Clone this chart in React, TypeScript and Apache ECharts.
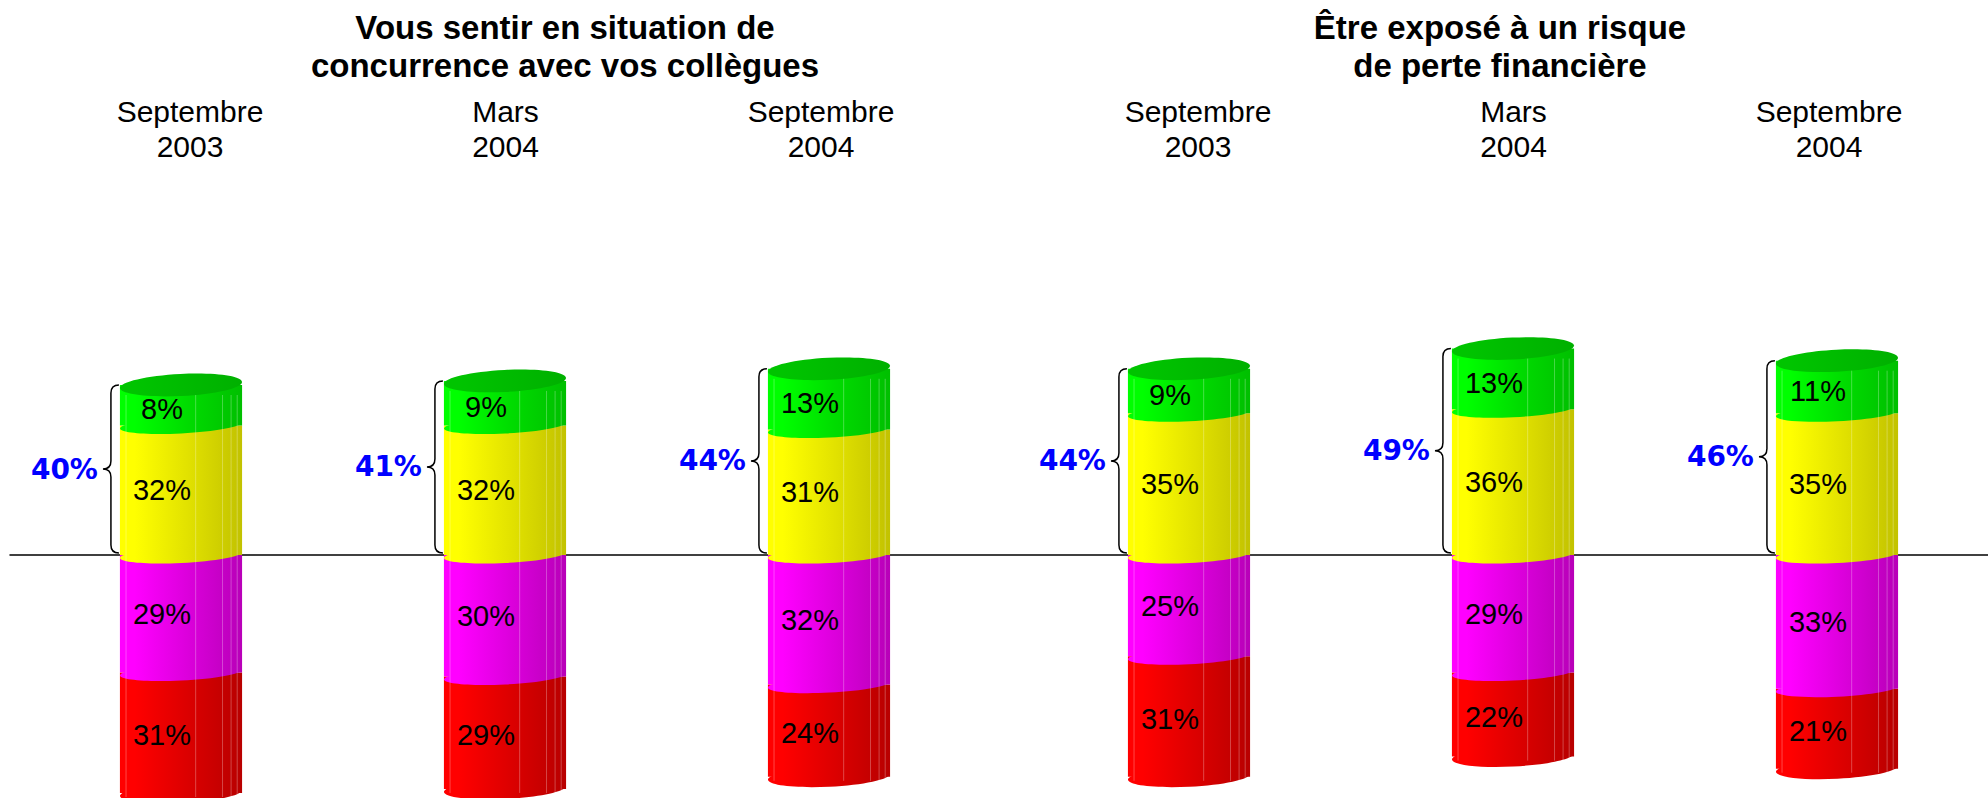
import React, { useEffect, useRef } from 'react';
import * as echarts from 'echarts';

// ---- data ----
const chartTitles = [
  'Vous sentir en situation de\nconcurrence avec vos collègues',
  'Être exposé à un risque\nde perte financière',
];
const periods = ['Septembre\n2003', 'Mars\n2004', 'Septembre\n2004'];

// Chart 1: "Vous sentir en situation de concurrence avec vos collègues"
const yellow1 = [32, 32, 31];
const green1 = [8, 9, 13];
const magenta1 = [29, 30, 32];
const red1 = [31, 29, 24];

// Chart 2: "Être exposé à un risque de perte financière"
const yellow2 = [35, 36, 35];
const green2 = [9, 13, 11];
const magenta2 = [25, 29, 33];
const red2 = [31, 22, 21];

const yMin = -60;
const yMax = 50;

// ---- styling helpers ----
const grad = (c0: string, c1: string, c2: string) =>
  new echarts.graphic.LinearGradient(0, 0, 1, 0, [
    { offset: 0, color: c0 },
    { offset: 0.12, color: c0 },
    { offset: 0.55, color: c1 },
    { offset: 1, color: c2 },
  ]);

const COLORS = {
  yellow: () => grad('#ffff00', '#e2e200', '#c2c200'),
  green: () => grad('#00ff00', '#00dc00', '#00bf00'),
  magenta: () => grad('#ff00ff', '#dc00dc', '#b800b8'),
  red: () => grad('#ff0000', '#dc0000', '#b80000'),
  cap: () => grad('#00c400', '#00ba00', '#00b000'),
};

const LABEL_FONT = '29px "Liberation Sans", Arial, sans-serif';
const TOTAL_FONT = 'bold 28px "DejaVu Sans", Verdana, sans-serif';
const TILT = 0.05;

function renderColumn(params: any, api: any) {
  const i = api.value(0);
  const yel = api.value(1);
  const grn = api.value(2);
  const mag = api.value(3);
  const red = api.value(4);
  const band = api.size([1, 0])[0];
  const w = band * 0.377;
  const p0 = api.coord([i, 0]);
  const cx = p0[0];
  const y0 = p0[1];
  const yYel = api.coord([i, yel])[1];
  const yTopVal = api.coord([i, yel + grn])[1];
  const yMag = api.coord([i, -mag])[1];
  const yBotVal = api.coord([i, -(mag + red)])[1];
  const yTop = yTopVal - 8;
  const yBot = yBotVal - 5;
  const left = cx - w / 2;
  const rx = w / 2;

  const children: any[] = [];
  const rect = (yA: number, yB: number, fill: any) => ({
    type: 'rect',
    shape: { x: left, y: yA, width: w, height: yB - yA },
    style: { fill },
  });
  const ell = (cy: number, ry: number, fill: any) => ({
    type: 'ellipse',
    x: cx,
    y: cy,
    rotation: TILT,
    shape: { cx: 0, cy: 0, rx, ry },
    style: { fill },
  });

  // red (bottom)
  children.push(ell(yBot, 10, COLORS.red()));
  children.push(rect(yMag, yBot, COLORS.red()));
  // magenta
  children.push(rect(y0, yMag, COLORS.magenta()));
  children.push(ell(yMag, 8, COLORS.magenta()));
  // yellow
  children.push(rect(yYel, y0, COLORS.yellow()));
  children.push(ell(y0, 8, COLORS.yellow()));
  // green
  children.push(rect(yTop, yYel, COLORS.green()));
  children.push(ell(yYel, 8, COLORS.green()));
  // top cap
  children.push(ell(yTop, 11, COLORS.cap()));

  // facet lines
  [0.05, 0.62, 0.84, 0.91, 0.96].forEach((f) => {
    children.push({
      type: 'line',
      shape: { x1: left + w * f, y1: yTop + 10, x2: left + w * f, y2: yBot + 4 },
      style: { stroke: 'rgba(255,255,255,0.28)', lineWidth: 1 },
    });
  });

  // segment labels
  const lx = cx - 19;
  const seg = (yA: number, yB: number, v: number) => ({
    type: 'text',
    x: lx,
    y: (yA + yB) / 2,
    style: {
      text: v + '%',
      font: LABEL_FONT,
      fill: '#000',
      align: 'center',
      verticalAlign: 'middle',
      textAlign: 'center',
      textVerticalAlign: 'middle',
    },
  });
  children.push(seg(yTopVal, yYel, grn));
  children.push(seg(yYel, y0, yel));
  children.push(seg(y0, yMag, mag));
  children.push(seg(yMag, yBotVal, red));

  // brace
  const xr = left - 1;
  const xm = xr - 8;
  const xl = xr - 16;
  const bt = yTopVal - 8;
  const bb = y0 - 2;
  const bm = (bt + bb) / 2;
  const r = 8;
  const d =
    `M ${xr} ${bt} Q ${xm} ${bt} ${xm} ${bt + r} L ${xm} ${bm - r} ` +
    `Q ${xm} ${bm} ${xl} ${bm} Q ${xm} ${bm} ${xm} ${bm + r} ` +
    `L ${xm} ${bb - r} Q ${xm} ${bb} ${xr} ${bb}`;
  children.push({
    type: 'path',
    shape: { pathData: d },
    style: { fill: 'none', stroke: '#000', lineWidth: 1.5 },
  });
  children.push({
    type: 'text',
    x: xl - 5,
    y: bm,
    style: {
      text: yel + grn + '%',
      font: TOTAL_FONT,
      fill: '#0000ff',
      align: 'right',
      verticalAlign: 'middle',
      textAlign: 'right',
      textVerticalAlign: 'middle',
    },
  });

  return { type: 'group', children };
}

const rows = (y: number[], g: number[], m: number[], r: number[]) =>
  periods.map((_, i) => [i, y[i], g[i], m[i], r[i]]);

export default function App() {
  const ref = useRef<HTMLDivElement>(null);

  useEffect(() => {
    if (!ref.current) return;
    const chart = echarts.init(ref.current, undefined, { renderer: 'svg' });

    const plotTop = 352.5;
    const plotHeight = 445.5;
    const hiddenY = (gridIndex: number) => ({
      type: 'value',
      gridIndex,
      min: yMin,
      max: yMax,
      show: false,
      splitLine: { show: false },
    });
    const plotX = (gridIndex: number) => ({
      type: 'category',
      gridIndex,
      data: periods,
      boundaryGap: false,
      show: false,
    });
    const labelX = (gridIndex: number) => ({
      type: 'category',
      gridIndex,
      data: periods,
      boundaryGap: false,
      position: 'top',
      axisLine: { show: false },
      axisTick: { show: false },
      axisLabel: {
        margin: 0,
        color: '#000',
        fontSize: 30,
        lineHeight: 35,
        fontFamily: '"Liberation Sans", Arial, sans-serif',
        interval: 0,
      },
    });

    chart.setOption({
      animation: false,
      backgroundColor: '#ffffff',
      grid: [
        { left: 181, width: 648, top: plotTop, height: plotHeight },
        { left: 1189, width: 648, top: plotTop, height: plotHeight },
        { left: 190, width: 631, top: 164, height: 20 },
        { left: 1198, width: 631, top: 164, height: 20 },
        { left: 10, right: 0, top: plotTop, height: plotHeight },
      ],
      xAxis: [
        plotX(0),
        plotX(1),
        labelX(2),
        labelX(3),
        {
          type: 'category',
          gridIndex: 4,
          data: [''],
          axisLine: { show: true, onZero: true, lineStyle: { color: '#000', width: 1.5 } },
          axisTick: { show: false },
          axisLabel: { show: false },
        },
      ],
      yAxis: [hiddenY(0), hiddenY(1), hiddenY(2), hiddenY(3), hiddenY(4)],
      graphic: chartTitles.map((t, k) => ({
        type: 'text',
        x: k === 0 ? 565 : 1500,
        y: 8,
        style: {
          text: t,
          font: 'bold 33px "Liberation Sans", Arial, sans-serif',
          lineHeight: 38,
          fill: '#000',
          align: 'center',
          textAlign: 'center',
        },
      })),
      series: [
        {
          type: 'custom',
          xAxisIndex: 0,
          yAxisIndex: 0,
          clip: false,
          renderItem: renderColumn,
          encode: { x: 0, y: 1 },
          data: rows(yellow1, green1, magenta1, red1),
        },
        {
          type: 'custom',
          xAxisIndex: 1,
          yAxisIndex: 1,
          clip: false,
          renderItem: renderColumn,
          encode: { x: 0, y: 1 },
          data: rows(yellow2, green2, magenta2, red2),
        },
      ],
    });

    return () => chart.dispose();
  }, []);

  return (
    <div
      ref={ref}
      style={{ position: 'fixed', left: 0, top: 0, width: 1988, height: 798, background: '#fff' }}
    />
  );
}
